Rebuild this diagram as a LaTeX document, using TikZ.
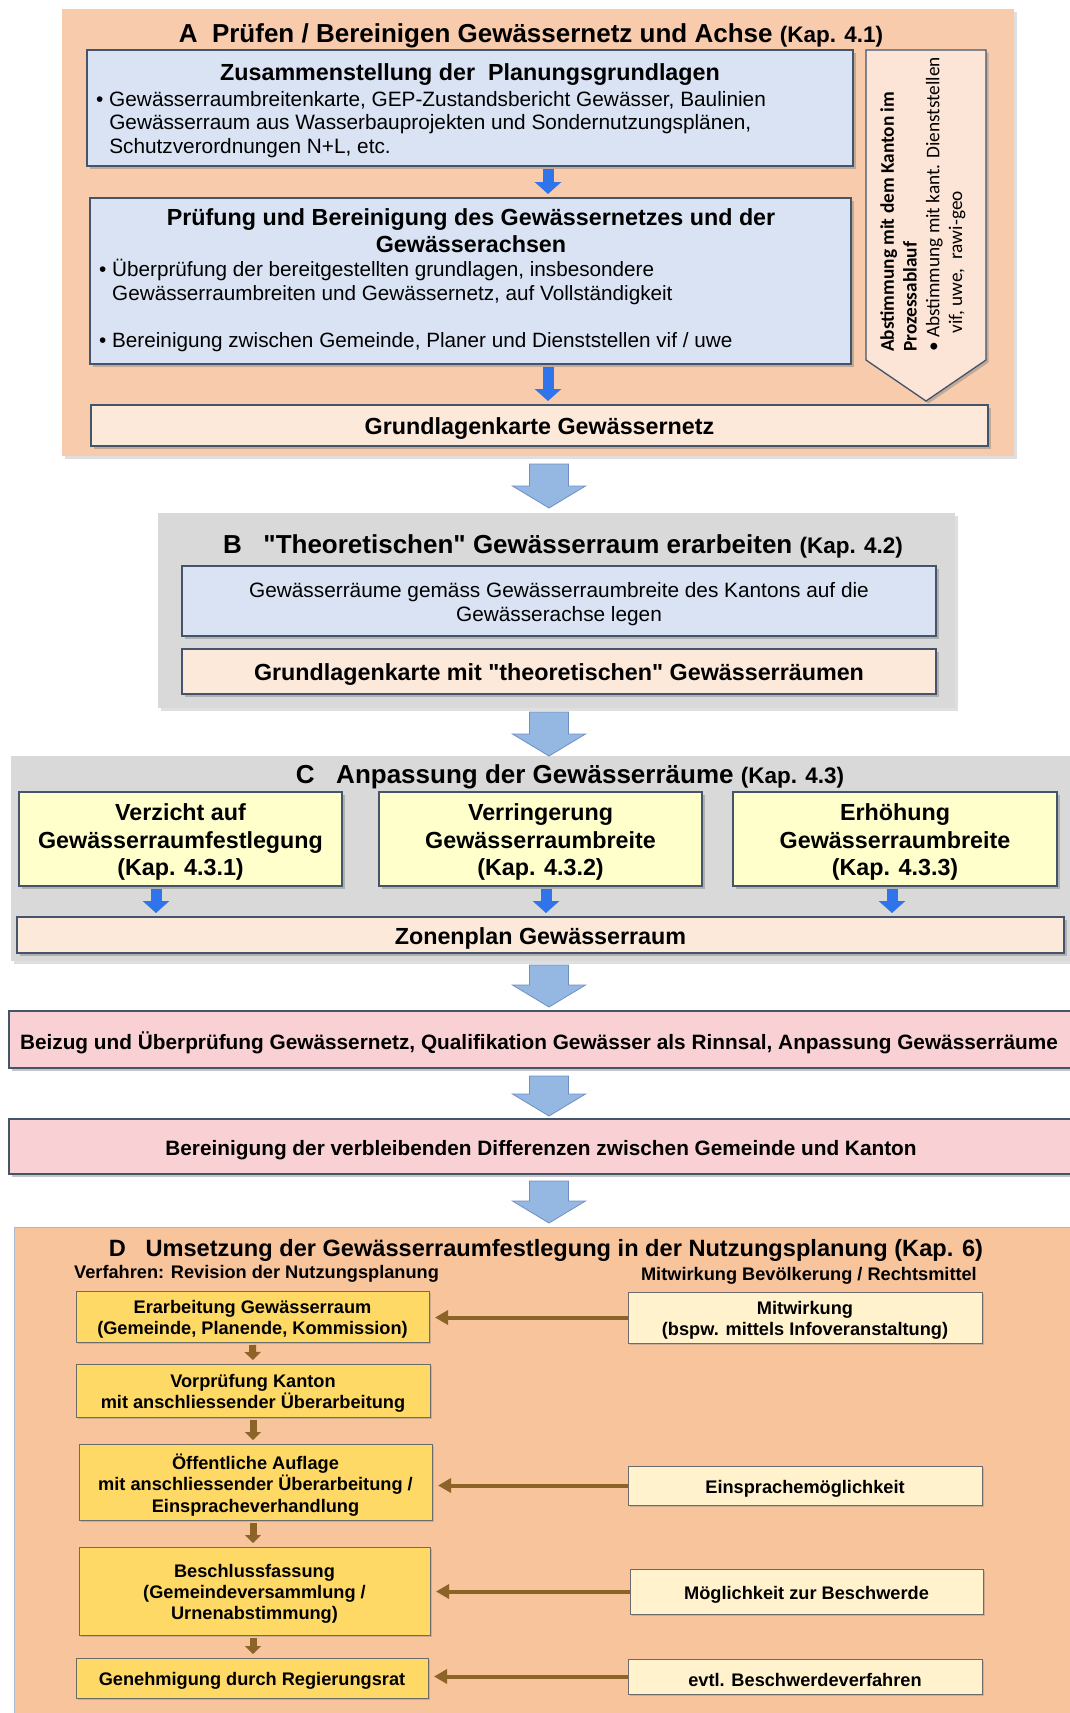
\documentclass[tikz,border=0pt]{standalone}
\usepackage{fontspec}
\setmainfont{Liberation Sans}
\newfontfamily\arial{Liberation Sans}
\newfontfamily\calib{Carlito}
\usetikzlibrary{shadows,arrows.meta,calc}
\definecolor{pAcol}{HTML}{F8CBAD}
\definecolor{blueBox}{HTML}{DAE3F3}
\definecolor{bord}{HTML}{44546A}
\definecolor{peach}{HTML}{FDE9D9}
\definecolor{sidec}{HTML}{FCE4D6}
\definecolor{greyP}{HTML}{D9D9D9}
\definecolor{yelC}{HTML}{FFFFCC}
\definecolor{pinkc}{HTML}{F9D0D3}
\definecolor{pDcol}{HTML}{F8C49C}
\definecolor{goldc}{HTML}{FFD966}
\definecolor{cream}{HTML}{FFF2CC}
\definecolor{brownc}{HTML}{8C6428}
\definecolor{bigfill}{HTML}{95B8E3}
\definecolor{bigdraw}{HTML}{6F8FC2}
\definecolor{bblue}{HTML}{2F74EB}
\definecolor{dgrey}{HTML}{6B6B6B}
\definecolor{pDbord}{HTML}{A9B9CF}
\newcommand\fsz[2]{\fontsize{#1}{#2}\selectfont}
\newcommand\bigarrow[3]{\draw[bigarr] (#1-19.5,#2) -- (#1+19.5,#2) -- (#1+19.5,#3-22) -- (#1+36.5,#3-22) -- (#1,#3) -- (#1-36.5,#3-22) -- (#1-19.5,#3-22) -- cycle;}
\tikzset{
 rect/.style={anchor=north west, inner sep=0pt, outer sep=0pt},
 panel/.style={rect, drop shadow={shadow xshift=3pt, shadow yshift=-3pt, opacity=0.25}},
 ibox/.style={rect, draw=bord, line width=1.3pt, drop shadow={shadow xshift=2.5pt, shadow yshift=-2.5pt, opacity=0.45}},
 dbox/.style={rect, draw=dgrey, line width=1pt, drop shadow={shadow xshift=2pt, shadow yshift=-2pt, opacity=0.35}},
 bigarr/.style={fill=bigfill, draw=bigdraw, line width=0.8pt},
 smallblue/.style={draw=bblue, line width=11pt, -{Triangle[width=26pt,length=12pt]}, shorten <=3pt, shorten >=4pt},
 smallbrown/.style={draw=brownc, line width=7pt, -{Triangle[width=16pt,length=8pt]}, shorten <=3pt, shorten >=4pt},
 hbrown/.style={draw=brownc, line width=4pt, -{Triangle[width=14pt,length=13pt]}, shorten >=6pt},
 txt/.style={inner sep=0pt, align=center, yshift=-3pt},
 ttl/.style={txt, font={\arial\fsz{26}{30}\bfseries}},
 ctxt/.style={txt, font={\arial\fsz{23.3}{27.3}\bfseries}},
 dtxt/.style={txt, font={\arial\fsz{18.2}{21.3}\bfseries}},
}
\begin{document}
\begin{tikzpicture}[x=1pt,y=-1pt]
\arial
\useasboundingbox (0,0) rectangle (1069,1713);
\fill[white] (0,0) rectangle (1069,1713);

% ---------- Panel A
\node[panel, fill=pAcol, minimum width=952, minimum height=447] (pA) at (62,9) {};
\node[ttl] (tA) at (531,33) {A\ \ Prüfen / Bereinigen Gewässernetz und Achse {\fsz{22.5}{26}(Kap. 4.1)}};
\node[ibox, fill=blueBox, minimum width=766, minimum height=116] (a1) at (87,50) {};
\node[ctxt] (a1t) at (470,72) {Zusammenstellung der\ \ Planungsgrundlagen};
\node[inner sep=0pt, anchor=base west] (a1b) at (96,106) {\fsz{20.8}{23.5}\begin{tabular}[t]{@{}l@{\ }l@{}}•&Gewässerraumbreitenkarte, GEP-Zustandsbericht Gewässer, Baulinien\\ &Gewässerraum aus Wasserbauprojekten und Sondernutzungsplänen,\\ &Schutzverordnungen N+L, etc.\end{tabular}};
\node[ibox, fill=blueBox, minimum width=761, minimum height=166] (a2) at (90,198) {};
\node[ctxt] (a2t) at (471,228) {Prüfung und Bereinigung des Gewässernetzes und der\\ Gewässerachsen};
\node[inner sep=0pt, anchor=base west] (a2b) at (99,276.5) {\fsz{20.7}{23.5}\begin{tabular}[t]{@{}l@{\ }l@{}}•&Überprüfung der bereitgestellten grundlagen, insbesondere\\ &Gewässerraumbreiten und Gewässernetz, auf Vollständigkeit\\ & \\ •&Bereinigung zwischen Gemeinde, Planer und Dienststellen vif / uwe\end{tabular}};
\node[ibox, fill=peach, minimum width=897, minimum height=41] (ga) at (91,405) {};
\node[ctxt] at (ga.center) {Grundlagenkarte Gewässernetz};
\draw[smallblue] (a1.south -| 548,0) -- (a2.north -| 548,0);
\draw[smallblue] (a2.south -| 548,0) -- (ga.north -| 548,0);
% side arrow
\draw[fill=sidec, draw=bord, line width=1.3pt, drop shadow={shadow xshift=2.5pt, shadow yshift=-2.5pt, opacity=0.45}] (866,50) -- (986,50) -- (986,360) -- (926,401) -- (866,360) -- cycle;
\node[rotate=90, anchor=north west, align=left, inner sep=0pt, font={\calib\fsz{19.3}{22.8}}] (side) at (880,352) {\textbf{Abstimmung mit dem Kanton im}\\ \textbf{Prozessablauf}\\ • Abstimmung mit kant. Dienststellen\\ \hspace*{0.95em}vif, uwe,\ \ rawi-geo};

% ---------- Panel B
\node[panel, fill=greyP, minimum width=797, minimum height=195] (pB) at (158,513) {};
\node[ttl] (tB) at (563,543) {B\ \ \ "Theoretischen" Gewässerraum erarbeiten {\fsz{22.5}{26}(Kap. 4.2)}};
\node[ibox, fill=blueBox, minimum width=754, minimum height=70] (b1) at (182,566) {};
\node[txt, font={\arial\fsz{20.8}{24.5}}] at (b1.center) {Gewässerräume gemäss Gewässerraumbreite des Kantons auf die\\ Gewässerachse legen};
\node[ibox, fill=peach, minimum width=754, minimum height=45] (b2) at (182,649) {};
\node[ctxt] at (b2.center) {Grundlagenkarte mit "theoretischen" Gewässerräumen};

% ---------- Panel C
\node[panel, fill=greyP, minimum width=1070, minimum height=205] (pC) at (11,756) {};
\node[ttl] (tC) at (570,774) {C\ \ \ Anpassung der Gewässerräume {\fsz{22.5}{26}(Kap. 4.3)}};
\node[ibox, fill=yelC, minimum width=323, minimum height=94] (c1) at (19,792) {};
\node[ibox, fill=yelC, minimum width=323, minimum height=94] (c2) at (379,792) {};
\node[ibox, fill=yelC, minimum width=324, minimum height=94] (c3) at (733,792) {};
\node[ctxt] at (c1.center) {Verzicht auf\\ Gewässerraumfestlegung\\ (Kap. 4.3.1)};
\node[ctxt] at (c2.center) {Verringerung\\ Gewässerraumbreite\\ (Kap. 4.3.2)};
\node[ctxt] at (c3.center) {Erhöhung\\ Gewässerraumbreite\\ (Kap. 4.3.3)};
\node[ibox, fill=peach, minimum width=1047, minimum height=36] (zon) at (17,917) {};
\node[ctxt] at (zon.center) {Zonenplan Gewässerraum};
\draw[smallblue] (c1.south -| 156,0) -- (zon.north -| 156,0);
\draw[smallblue] (c2.south -| 546,0) -- (zon.north -| 546,0);
\draw[smallblue] (c3.south -| 892,0) -- (zon.north -| 892,0);

% ---------- Pink boxes
\node[ibox, fill=pinkc, minimum width=1070, minimum height=57] (pk1) at (9,1011) {};
\node[txt, font={\arial\fsz{20.8}{24}\bfseries}] at (539,1040) {Beizug und Überprüfung Gewässernetz, Qualifikation Gewässer als Rinnsal, Anpassung Gewässerräume};
\node[ibox, fill=pinkc, minimum width=1070, minimum height=55] (pk2) at (9,1119) {};
\node[txt, font={\arial\fsz{20.8}{24}\bfseries}] at (541,1147) {Bereinigung der verbleibenden Differenzen zwischen Gemeinde und Kanton};

% ---------- Panel D
\node[panel, fill=pDcol, draw=pDbord, line width=1pt, minimum width=1070, minimum height=500] (pD) at (14,1227) {};
\node[txt, font={\arial\fsz{23.6}{27}\bfseries}] (tD) at (546,1247) {D\ \ \ Umsetzung der Gewässerraumfestlegung in der Nutzungsplanung (Kap. 6)};
\node[inner sep=0pt, anchor=west, yshift=-3pt, font={\arial\fsz{18.2}{21}\bfseries}] (sl) at (74,1271) {Verfahren: Revision der Nutzungsplanung};
\node[inner sep=0pt, anchor=east, yshift=-3pt, font={\arial\fsz{18.2}{21}\bfseries}] (sr) at (977,1273) {Mitwirkung Bevölkerung / Rechtsmittel};
\node[dbox, fill=goldc, minimum width=353, minimum height=51] (l1) at (76,1291) {};
\node[dbox, fill=goldc, minimum width=354, minimum height=53] (l2) at (76,1364) {};
\node[dbox, fill=goldc, minimum width=353, minimum height=76] (l3) at (79,1444) {};
\node[dbox, fill=goldc, minimum width=351, minimum height=88] (l4) at (79,1547) {};
\node[dbox, fill=goldc, minimum width=352, minimum height=40] (l5) at (76,1658) {};
\node[dtxt] at (l1.center) {Erarbeitung Gewässerraum\\ (Gemeinde, Planende, Kommission)};
\node[dtxt] at (l2.center) {Vorprüfung Kanton\\ mit anschliessender Überarbeitung};
\node[dtxt] at (l3.center) {Öffentliche Auflage\\ mit anschliessender Überarbeitung /\\ Einspracheverhandlung};
\node[dtxt] at (l4.center) {Beschlussfassung\\ (Gemeindeversammlung /\\ Urnenabstimmung)};
\node[dtxt] at (l5.center) {Genehmigung durch Regierungsrat};
\node[dbox, fill=cream, minimum width=354, minimum height=51] (r1) at (628,1292) {};
\node[dbox, fill=cream, minimum width=354, minimum height=39] (r3) at (628,1466) {};
\node[dbox, fill=cream, minimum width=353, minimum height=45] (r4) at (630,1569) {};
\node[dbox, fill=cream, minimum width=354, minimum height=35] (r5) at (628,1659) {};
\node[dtxt] at (r1.center) {Mitwirkung\\ (bspw. mittels Infoveranstaltung)};
\node[dtxt] at (r3.center) {Einsprachemöglichkeit};
\node[dtxt] at (r4.center) {Möglichkeit zur Beschwerde};
\node[dtxt] at (r5.center) {evtl. Beschwerdeverfahren};
\draw[hbrown] (r1.west) -- (r1.west -| l1.east);
\draw[hbrown] (r3.west) -- (r3.west -| l3.east);
\draw[hbrown] (r4.west) -- (r4.west -| l4.east);
\draw[hbrown] (r5.west) -- (r5.west -| l5.east);
\draw[smallbrown] (l1.south) -- (l2.north);
\draw[smallbrown] (l2.south) -- (l3.north -| l2.south);
\draw[smallbrown] (l3.south -| l2.south) -- (l4.north -| l2.south);
\draw[smallbrown] (l4.south -| l2.south) -- (l5.north -| l2.south);

% ---------- big arrows
\bigarrow{549}{464}{508}
\bigarrow{549}{712}{756}
\bigarrow{549}{965}{1007}
\bigarrow{549}{1076}{1116}
\bigarrow{549}{1181}{1223}
\end{tikzpicture}
\end{document}
